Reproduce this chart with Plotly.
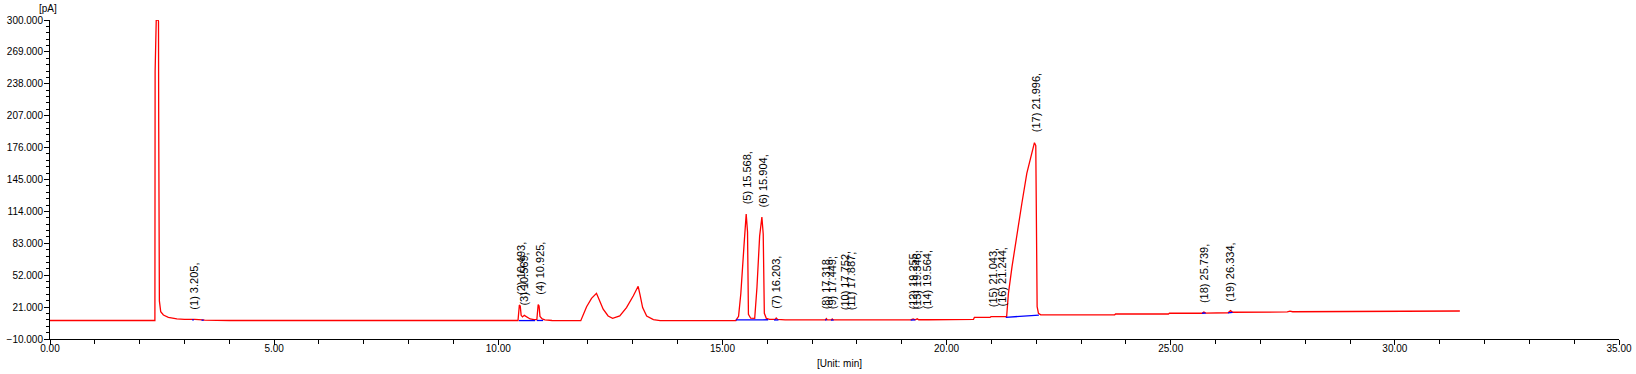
import plotly.graph_objects as go

# chromatogram trace (time in min, signal in pA)
time = [0.00, 2.34, 2.345, 2.355, 2.37, 2.41, 2.42, 2.425, 2.43, 2.44, 2.47, 2.53, 2.64, 2.83,
        3.00, 3.18, 3.205, 3.23, 3.40, 3.45, 4.00,
        10.44, 10.47, 10.49, 10.51, 10.54, 10.58, 10.63, 10.71, 10.80, 10.86, 10.89, 10.91,
        10.93, 10.98, 11.04, 11.20,
        11.84, 11.97, 12.08, 12.19, 12.23, 12.34, 12.45, 12.55, 12.71, 12.86, 13.01, 13.12,
        13.16, 13.22, 13.31, 13.46, 13.61,
        15.30, 15.36, 15.41, 15.48, 15.53, 15.56, 15.58, 15.63, 15.72, 15.77, 15.83, 15.88,
        15.91, 15.935, 15.98, 16.05, 16.18, 16.20, 16.23, 16.40,
        17.30, 17.318, 17.34, 17.43, 17.449, 17.47, 17.75, 17.887, 17.90,
        19.20, 19.255, 19.30, 19.346, 19.38, 19.564, 19.60,
        20.60, 20.62, 20.97, 20.99, 21.34, 21.38, 21.46, 21.57, 21.68, 21.79, 21.90, 21.96,
        21.99, 22.02, 22.05, 22.10,
        23.75, 23.77, 24.95, 24.97, 25.70, 25.739, 25.78, 26.28, 26.334, 26.38,
        27.60, 27.66, 27.72, 31.45]
signal = [8.0, 8.0, 250, 299, 300, 300, 299, 200, 31, 27, 16.5, 13.3, 11.0, 9.5,
          9.0, 9.0, 9.6, 9.0, 8.6, 8.3, 8.0,
          8.0, 23.0, 22.0, 13.0, 11.5, 13.0, 11.5, 9.5, 8.8, 8.8, 23.5, 22.0,
          12.0, 9.5, 8.6, 8.0,
          7.8, 21.4, 29.5, 34.4, 30.3, 19.0, 12.4, 10.1, 12.4, 20.5, 31.8, 41.2,
          33.4, 20.5, 12.4, 8.9, 7.9,
          8.0, 12.0, 34.0, 80.0, 111.5, 94.0, 14.0, 10.2, 10.0, 40.0, 90.0, 108.5,
          92.0, 15.0, 10.0, 9.0, 9.0, 10.3, 9.0, 8.5,
          8.5, 9.8, 8.6, 8.6, 9.5, 8.5, 8.5, 8.7, 8.5,
          8.5, 9.5, 8.7, 9.6, 8.7, 8.9, 8.7,
          9.0, 11.0, 11.0, 11.7, 11.7, 34.4, 60.3, 92.7, 121.9, 151.0, 170.0, 180.8,
          178.0, 21.4, 15.0, 13.5,
          13.5, 14.3, 14.3, 15.0, 15.0, 16.3, 15.2, 15.5, 17.5, 16.0,
          16.3, 17.0, 16.5, 17.2]

# integration baselines (None separates segments)
base_time = [3.17, 3.21, None, 3.38, 3.43, None, 10.46, 10.82, None, 10.86, 11.00, None,
             15.30, 16.02, None, 16.15, 16.25, None, 17.29, 17.33, None, 17.42, 17.48, None,
             19.20, 19.30, None, 21.32, 21.95, 22.06, None, 25.70, 25.78, None, 26.28, 26.38]
base_signal = [8.6, 8.6, None, 8.3, 8.3, None, 7.9, 7.9, None, 8.0, 8.0, None,
               8.5, 8.7, None, 8.5, 8.5, None, 8.5, 8.5, None, 8.4, 8.4, None,
               8.3, 8.5, None, 11.1, 12.6, 13.2, None, 15.0, 15.2, None, 15.4, 15.8]

# peak labels
peak_num = list(range(1, 20))
peak_rt = [3.205, 10.493, 10.569, 10.925, 15.568, 15.904, 16.203, 17.318, 17.449, 17.752,
           17.887, 19.255, 19.346, 19.564, 21.043, 21.244, 21.996, 25.739, 26.334]
peak_h = [9.0, 23.0, 13.0, 23.5, 111.5, 108.5, 9.5, 9.0, 9.0, 8.5,
          8.5, 8.6, 8.6, 8.7, 11.0, 11.7, 180.8, 15.5, 16.5]

fig = go.Figure()
fig.add_trace(go.Scatter(x=time, y=signal, mode="lines",
                         line=dict(color="#ff0000", width=1.3), hoverinfo="skip"))
fig.add_trace(go.Scatter(x=base_time, y=base_signal, mode="lines",
                         line=dict(color="#0000ff", width=1.3), hoverinfo="skip",
                         connectgaps=False))

FONT = "Liberation Sans, Arial, sans-serif"
for n, rt, h in zip(peak_num, peak_rt, peak_h):
    fig.add_annotation(x=rt, y=h, text=f"({n}) {rt:.3f},", textangle=-90,
                       showarrow=False, xanchor="center", yanchor="bottom", yshift=8,
                       font=dict(family=FONT, size=11, color="#000000"))

fig.add_annotation(xref="paper", yref="paper", x=0, y=1, xshift=-2, yshift=12,
                   text="[pA]", showarrow=False, xanchor="center", yanchor="middle",
                   font=dict(family=FONT, size=10, color="#000000"))
fig.add_annotation(xref="paper", yref="paper", x=0.503, y=0, yshift=-24,
                   text="[Unit: min]", showarrow=False, xanchor="center", yanchor="middle",
                   font=dict(family=FONT, size=10, color="#000000"))

fig.update_layout(
    width=1636, height=374,
    margin=dict(l=50, r=17, t=20, b=35),
    paper_bgcolor="white", plot_bgcolor="white",
    showlegend=False,
    font=dict(family=FONT, size=10, color="#000000"),
    xaxis=dict(range=[0, 35], tick0=0, dtick=5, tickformat=".2f", automargin=False,
               showgrid=False, zeroline=False, showline=True, linecolor="black", linewidth=1,
               ticks="outside", ticklen=5, tickcolor="black", tickwidth=1,
               ticklabelstandoff=-5,
               minor=dict(dtick=1, tick0=0, ticks="outside", ticklen=4, tickcolor="black",
                          showgrid=False),
               tickfont=dict(family=FONT, size=10, color="#000000")),
    yaxis=dict(range=[-10, 300], tick0=-10, dtick=31, tickformat=".3f", automargin=False,
               showgrid=False, zeroline=False, showline=True, linecolor="black", linewidth=1,
               ticks="outside", ticklen=5, tickcolor="black", tickwidth=1,
               ticklabelstandoff=-1,
               minor=dict(dtick=6.2, tick0=-10, ticks="outside", ticklen=3, tickcolor="black",
                          showgrid=False),
               tickfont=dict(family=FONT, size=10, color="#000000")),
)

fig.write_html("out.html", config={"displayModeBar": False},
               post_script="document.body.style.margin='0';")
